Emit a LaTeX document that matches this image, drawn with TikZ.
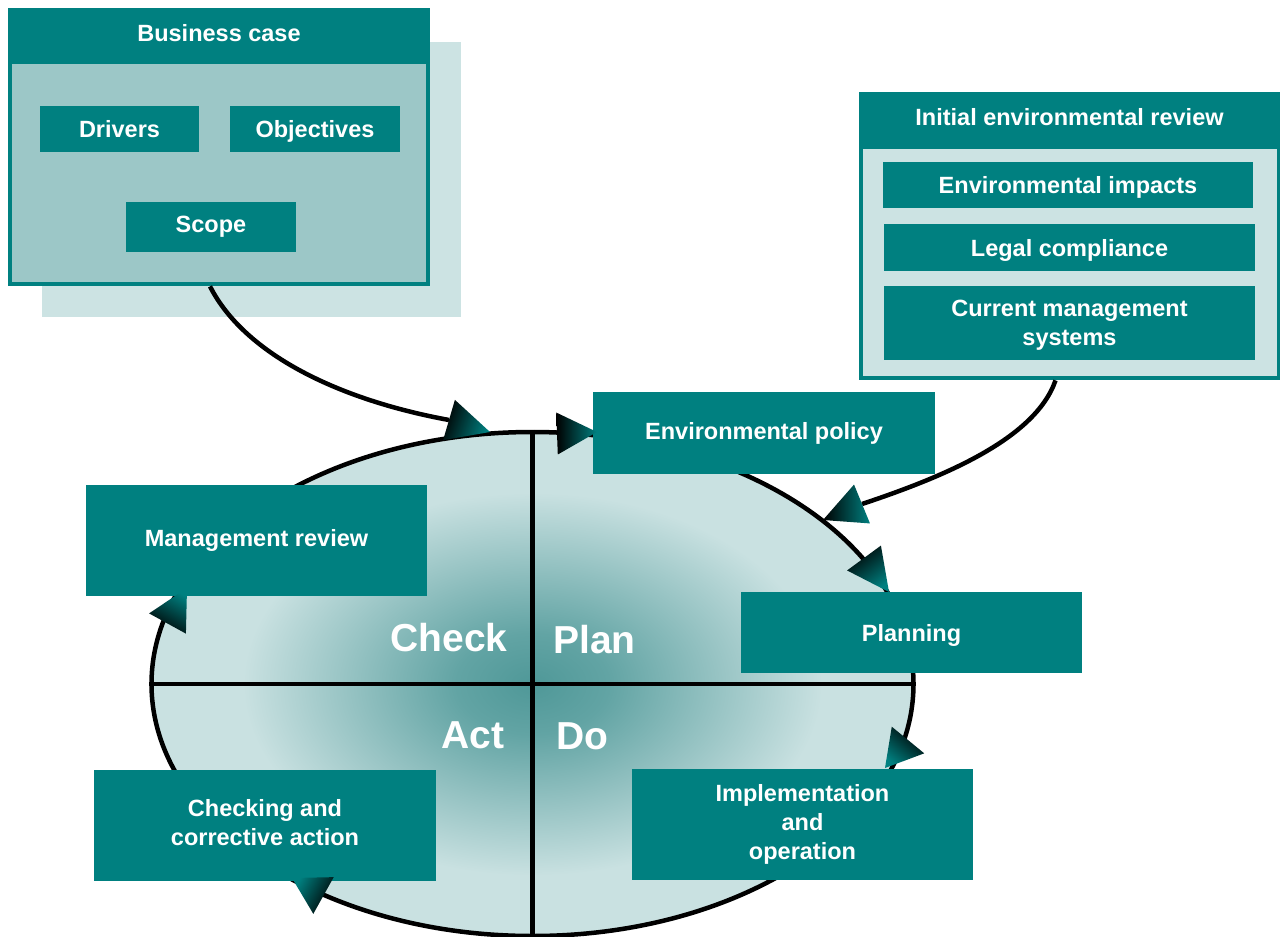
\documentclass[tikz,border=0pt]{standalone}
\usepackage{fontspec}
\setmainfont{Liberation Sans}
\usetikzlibrary{shapes.geometric,calc}

\definecolor{pdcateal}{HTML}{008080}
\definecolor{pdcapale}{HTML}{CCE3E3}
\definecolor{pdcamid}{HTML}{9CC7C7}
\definecolor{pdcacore}{HTML}{4F9898}
\definecolor{pdcahalf}{HTML}{62A4A4}
\definecolor{pdcarim}{HTML}{C9E1E1}

\pgfdeclareradialshading{pdcaglow}{\pgfpoint{0bp}{0bp}}{color(0bp)=(pdcacore); color(5bp)=(pdcahalf); color(19bp)=(pdcarim); color(50bp)=(pdcarim)}

\tikzset{every picture/.style={line width=0.75pt}}
\tikzset{
  box/.style={fill=pdcateal, text=white, align=center, inner sep=0pt, font=\bfseries\fontsize{23.5}{29}\selectfont},
  bigword/.style={text=white, inner sep=0pt, font=\bfseries\fontsize{39}{39}\selectfont},
  link/.style={line width=4.5pt, draw=black},
}

% gradient arrow head: base, tip, shading angle
\newcommand{\gradtip}[3]{%
  \shade [left color=black, right color=pdcateal, shading angle=#3]
    ($(#1)!21pt!90:(#2)$) -- (#2) -- ($(#1)!21pt!-90:(#2)$) -- cycle;}

\begin{document}
\begin{tikzpicture}[x=1pt,y=1pt,yscale=-1,xscale=1]
\useasboundingbox (0,0) rectangle (1288,937);

%Shape: Shadow behind business case
\fill [pdcapale] (42,42) rectangle (461,317);

%Shape: PDCA ellipse
\node [ellipse, draw, line width=4.5pt, minimum width=762pt, minimum height=504pt, inner sep=0pt, shade, shading=pdcaglow] (pdca) at (532.5,684) {};
\draw [line width=4.5pt] (pdca.north) -- (pdca.south);
\draw [line width=4.5pt] (pdca.west) -- (pdca.east);

% Text Node
\node [bigword, anchor=east] (check) at (508,638) {Check};
% Text Node
\node [bigword, anchor=west] (plan) at (553,640) {Plan};
% Text Node
\node [bigword, anchor=east] (act) at (505,735) {Act};
% Text Node
\node [bigword, anchor=west] (do) at (556,736) {Do};

%Shape: Business case
\node [fill=pdcateal, minimum width=422pt, minimum height=278pt, inner sep=0pt] (bizcase) at (219,147) {};
\fill [pdcamid] (12,64) rectangle (426,282);
\node [box] (biztitle) at (219,33) {Business case};
\node [box, minimum width=159pt, minimum height=46pt] (drivers) at (119.5,129) {Drivers};
\node [box, minimum width=170pt, minimum height=46pt, text depth=0pt] (objectives) at (315,129) {Objectives};
\node [box, minimum width=170pt, minimum height=50pt] (scope) at (211,227) {Scope};

%Shape: Initial environmental review
\node [fill=pdcateal, minimum width=421pt, minimum height=288pt, inner sep=0pt] (review) at (1069.5,236) {};
\fill [pdcapale] (863,149) rectangle (1277,376);
\node [box] (reviewtitle) at (1069.5,117) {Initial environmental review};
\node [box, minimum width=370pt, minimum height=46pt, text depth=0pt] (impacts) at (1068,185) {Environmental impacts};
\node [box, minimum width=371pt, minimum height=47pt, text depth=0pt] (legal) at (1069.5,247.5) {Legal compliance};
\node [box, minimum width=371pt, minimum height=74pt, text depth=0pt] (current) at (1069.5,323) {Current management\\systems};

%Shape: cycle steps
\node [box, minimum width=342pt, minimum height=82pt] (policy) at (764,433) {Environmental policy};
\node [box, minimum width=341pt, minimum height=81pt, text depth=0pt] (planning) at (911.5,632.5) {Planning};
\node [box, minimum width=341pt, minimum height=111pt] (implement) at (802.5,824.5) {Implementation\\and\\operation};
\node [box, minimum width=342pt, minimum height=111pt, text depth=6pt] (checking) at (265,825.5) {Checking and\\corrective action};
\node [box, minimum width=341pt, minimum height=111pt] (mgmt) at (256.5,540.5) {Management review};

%Straight Lines: connectors into the cycle
\coordinate (bizend) at (449,420);
\coordinate (biztip) at (490,432);
\draw [link] ([xshift=-9pt]bizcase.south) .. controls (245,355) and (340,400) .. (bizend);
\coordinate (reviewend) at (862,504);
\coordinate (reviewtip) at (823,520);
\draw [link] ([xshift=-14pt]review.south) .. controls (1035,440) and (940,478) .. (reviewend);

%Arrow heads
\gradtip{bizend}{biztip}{71}
\gradtip{reviewend}{reviewtip}{90}
\coordinate (policybase) at (557,433.5);
\coordinate (policytip) at (597,432);
\gradtip{policybase}{policytip}{90}
\coordinate (planbase) at (864,558);
\coordinate (plantip) at (889,592);
\gradtip{planbase}{plantip}{36}
\coordinate (dobase) at (908,740);
\coordinate (dotip) at (885,768);
\gradtip{dobase}{dotip}{-39}
\coordinate (checkbase) at (323.5,895.5);
\coordinate (checktip) at (292,878);
\gradtip{checkbase}{checktip}{241}
\coordinate (mgmtbase) at (167.5,623.5);
\coordinate (mgmttip) at (187,588);
\gradtip{mgmtbase}{mgmttip}{151}
\end{tikzpicture}
\end{document}
